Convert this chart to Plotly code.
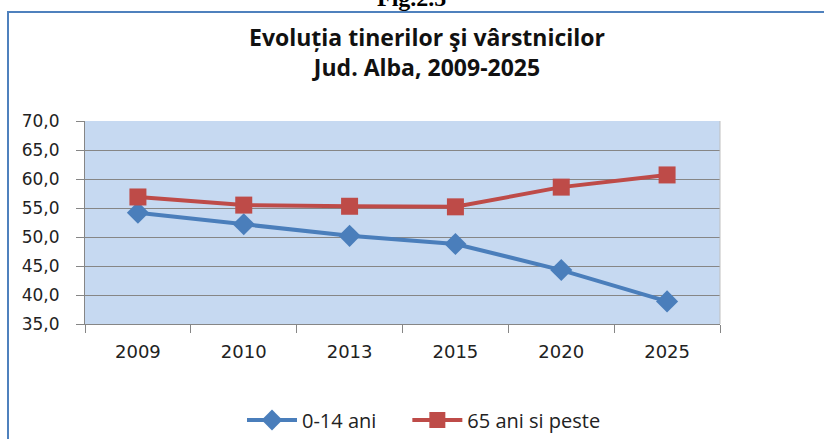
import plotly.graph_objects as go

categories = ["2009", "2010", "2013", "2015", "2020", "2025"]
tineri = [54.2, 52.2, 50.2, 48.8, 44.3, 38.9]
varstnici = [56.9, 55.5, 55.3, 55.2, 58.6, 60.7]
series_names = ["0-14 ani", "65 ani si peste"]
y_ticks = [35, 40, 45, 50, 55, 60, 65, 70]
y_tick_labels = ["35,0", "40,0", "45,0", "50,0", "55,0", "60,0", "65,0", "70,0"]

W, H = 824, 439
# pixel plot box
SL, SR, ST, SB = 85, 720, 121, 324
L, T = SL, ST
R = W - SR
B = H - SB
pw, ph = W - L - R, H - T - B

def px_x(x):
    return (x - SL) / pw

def px_y(y):
    return (SB - y) / ph

PAD = "\u00a0" * 5  # spacing between legend entries

fig = go.Figure()
fig.add_trace(go.Scatter(
    x=categories, y=tineri, name=series_names[0] + PAD, mode="lines+markers",
    line=dict(color="#4A7EBB", width=4),
    marker=dict(symbol="diamond", size=17, color="#4A7EBB"),
))
fig.add_trace(go.Scatter(
    x=categories, y=varstnici, name=series_names[1], mode="lines+markers",
    line=dict(color="#BE4B48", width=4),
    marker=dict(symbol="square", size=17, color="#BE4B48"),
))

fig.update_layout(
    width=W, height=H,
    margin=dict(l=L, r=R, t=T, b=B, pad=0, autoexpand=False),
    paper_bgcolor="white",
    plot_bgcolor="#C6D9F1",
    showlegend=True,
    legend=dict(orientation="h", x=px_x(424), xanchor="center", y=px_y(420), yanchor="middle",
                font=dict(family="Open Sans, sans-serif", size=20, color="#222"),
                itemwidth=50, bgcolor="rgba(0,0,0,0)"),
    xaxis=dict(
        type="category", range=[-0.5, 5.5],
        showgrid=False, showline=True, linecolor="#868686", linewidth=1,
        ticks="outside", ticklen=8, tickcolor="#868686", tickson="boundaries",
        ticklabelstandoff=11,
        tickfont=dict(family="DejaVu Sans, Verdana, sans-serif", size=18, color="#222"),
        zeroline=False,
    ),
    yaxis=dict(
        range=[35, 70], tickvals=y_ticks, ticktext=y_tick_labels,
        showgrid=True, gridcolor="#868686", gridwidth=1,
        showline=True, linecolor="#868686", linewidth=1,
        ticks="outside", ticklen=8, tickcolor="#868686",
        ticklabelstandoff=13,
        tickfont=dict(family="DejaVu Sans, Verdana, sans-serif", size=17, color="#222"),
        zeroline=False,
    ),
    annotations=[
        dict(text="<b>Evoluția tinerilor şi vârstnicilor<br>Jud. Alba, 2009-2025</b>",
             x=px_x(427), y=px_y(52),
             xref="paper", yref="paper", xanchor="center", yanchor="middle", showarrow=False,
             font=dict(family="Open Sans, sans-serif", size=23, color="#111")),
        dict(text="<b>Fig.2.5</b>", x=px_x(412), y=px_y(-2),
             xref="paper", yref="paper", xanchor="center", yanchor="middle", showarrow=False,
             font=dict(family="Liberation Serif, serif", size=24, color="#000")),
    ],
    shapes=[
        dict(type="rect", xref="paper", yref="paper",
             x0=px_x(8), x1=px_x(840), y0=px_y(460), y1=px_y(12),
             line=dict(color="#4F81BD", width=2), fillcolor="rgba(0,0,0,0)", layer="below"),
        dict(type="line", xref="paper", yref="paper", x0=1, x1=1, y0=0, y1=1,
             line=dict(color="#BFBFBF", width=1)),
    ],
)

fig.write_html("out.html", config={"displayModeBar": False},
               post_script="document.body.style.margin='0';")
